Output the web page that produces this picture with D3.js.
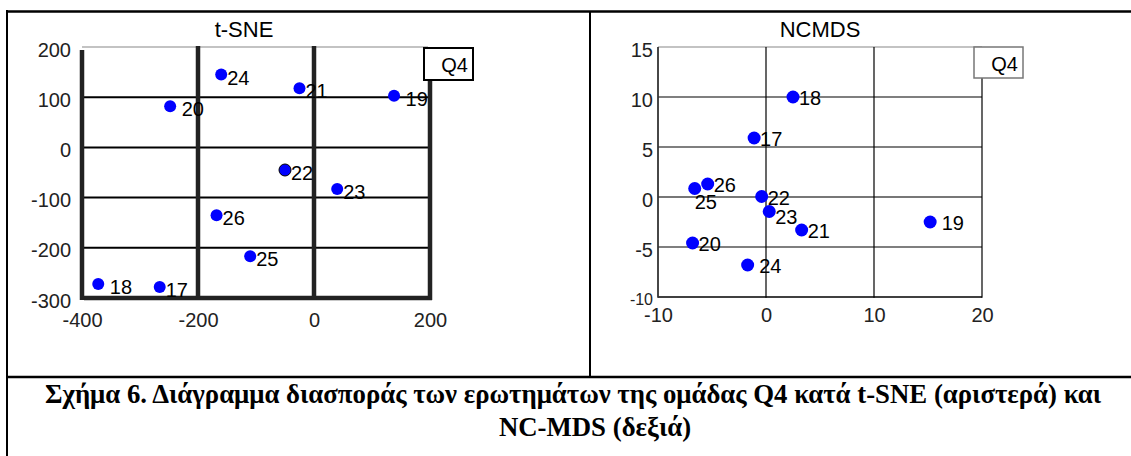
<!DOCTYPE html>
<html>
<head>
<meta charset="utf-8">
<script src="https://cdn.jsdelivr.net/npm/d3@7"></script>
<style>
  body { margin: 0; background: #fff; }
  svg { display: block; }
  .lbl { white-space: pre; }
</style>
</head>
<body>
<svg id="fig"></svg>
<script>
// question labels (leading space = gap before label, as in the original)
var tsneLabels = ['17', ' 18', ' 19', ' 20', '21', '22', '23', '24', '25', '26'];
var tsneX = [-266, -372, 138, -248, -25, -50, 40, -160, -110, -168];
var tsneY = [-278, -272, 103, 82, 118, -45, -83, 145, -217, -135];

var ncmdsLabels = ['17', '18', ' 19', '20', '21', '22', '23', ' 24', '25', '26'];
var ncmdsX = [-1.1, 2.5, 15.2, -6.8, 3.3, -0.4, 0.3, -1.7, -6.6, -5.4];
var ncmdsY = [5.9, 10, -2.5, -4.6, -3.3, 0.05, -1.45, -6.8, 0.85, 1.3];

var tsneXTicks = [-400, -200, 0, 200];
var tsneYTicks = [-300, -200, -100, 0, 100, 200];
var ncmdsXTicks = [-10, 0, 10, 20];
var ncmdsYTicks = [-10, -5, 0, 5, 10, 15];

var captionLine1 = 'Σχήμα 6. Διάγραμμα διασποράς των ερωτημάτων της ομάδας Q4 κατά t-SNE (αριστερά) και';
var captionLine2 = 'NC-MDS (δεξιά)';

var width = 1131, height = 456;
var font = "'Liberation Sans', Arial, sans-serif";
var plain = function(d) { return String(d); };   // keep ascii hyphen for negatives

var svg = d3.select('#fig')
  .attr('width', width)
  .attr('height', height);

// table frame
var frame = svg.append('g').attr('stroke', '#000');
frame.append('line').attr('x1', 6).attr('x2', width).attr('y1', 11.5).attr('y2', 11.5).attr('stroke-width', 2.5);
frame.append('line').attr('x1', 7).attr('x2', 7).attr('y1', 10).attr('y2', height).attr('stroke-width', 2);
frame.append('line').attr('x1', 590).attr('x2', 590).attr('y1', 11).attr('y2', 377).attr('stroke-width', 2);
frame.append('line').attr('x1', 6).attr('x2', width).attr('y1', 377).attr('y2', 377).attr('stroke-width', 2.5);

// ---------- t-SNE ----------
var x1 = d3.scaleLinear().domain([-400, 200]).range([82, 430]);
var y1 = d3.scaleLinear().domain([-300, 200]).range([298, 47]);
var g1 = svg.append('g');

g1.append('text')
  .attr('x', 244).attr('y', 37)
  .attr('text-anchor', 'middle')
  .style('font', '22px ' + font)
  .text('t-SNE');

// horizontal grid
g1.selectAll('.hgrid')
  .data(tsneYTicks)
  .enter().append('line')
  .attr('x1', function(d) { return d === 200 ? 82 : 84; })
  .attr('x2', function(d) { return d === -300 ? 432 : 428; })
  .attr('y1', function(d) { return y1(d); })
  .attr('y2', function(d) { return y1(d); })
  .attr('stroke', function(d) { return d === 200 ? '#888' : (d === -300 ? '#222' : '#000'); })
  .attr('stroke-width', function(d) { return d === 200 ? 1.2 : (d === -300 ? 4.5 : 2); });

// vertical grid
g1.selectAll('.vgrid')
  .data(tsneXTicks)
  .enter().append('line')
  .attr('x1', function(d) { return x1(d); })
  .attr('x2', function(d) { return x1(d); })
  .attr('y1', function(d) { return d === 200 ? 80 : (d === -400 ? 50 : 46); })
  .attr('y2', 300)
  .attr('stroke', '#222')
  .attr('stroke-width', 4.5);

// legend box
g1.append('rect')
  .attr('x', 424).attr('y', 48).attr('width', 49).attr('height', 32)
  .attr('fill', '#fff').attr('stroke', '#000').attr('stroke-width', 2);
g1.append('text')
  .attr('x', 468).attr('y', 72)
  .attr('text-anchor', 'end')
  .style('font', '20px ' + font)
  .text('Q4');

var ax1 = g1.append('g')
  .attr('transform', 'translate(82,0)')
  .call(d3.axisLeft(y1).tickValues(tsneYTicks).tickFormat(plain).tickSize(0).tickPadding(11));
var bx1 = g1.append('g')
  .attr('transform', 'translate(0,298)')
  .call(d3.axisBottom(x1).tickValues(tsneXTicks).tickFormat(plain).tickSize(0).tickPadding(15));
[ax1, bx1].forEach(function(a) {
  a.select('.domain').remove();
  a.selectAll('text').style('font', '20px ' + font).attr('fill', '#222');
});
ax1.selectAll('text').attr('dy', '0.45em');

var tsnePts = tsneLabels.map(function(l, i) { return { label: l, x: tsneX[i], y: tsneY[i] }; });

g1.selectAll('.pt')
  .data(tsnePts)
  .enter().append('circle')
  .attr('cx', function(d) { return x1(d.x); })
  .attr('cy', function(d) { return y1(d.y); })
  .attr('r', 6)
  .attr('fill', '#0000ff')
  .attr('stroke', function(d) { return d.label === '22' ? '#000' : 'none'; })
  .attr('stroke-width', 1);

g1.selectAll('.lbl')
  .data(tsnePts)
  .enter().append('text')
  .attr('class', 'lbl')
  .attr('x', function(d) { return x1(d.x) + 6; })
  .attr('y', function(d) { return y1(d.y) + 10; })
  .style('font', '20px ' + font)
  .text(function(d) { return d.label; });

// ---------- NCMDS ----------
var x2 = d3.scaleLinear().domain([-10, 20]).range([658, 982]);
var y2 = d3.scaleLinear().domain([-10, 15]).range([297, 47]);
var g2 = svg.append('g');

g2.append('text')
  .attr('x', 820).attr('y', 37)
  .attr('text-anchor', 'middle')
  .style('font', '22px ' + font)
  .text('NCMDS');

g2.selectAll('.hgrid')
  .data(ncmdsYTicks)
  .enter().append('line')
  .attr('x1', 658)
  .attr('x2', 982)
  .attr('y1', function(d) { return y2(d); })
  .attr('y2', function(d) { return y2(d); })
  .attr('stroke', function(d) { return d === 0 ? '#777' : (d === 15 ? '#888' : '#000'); })
  .attr('stroke-width', function(d) { return d === 0 ? 2 : (d === -10 ? 1.6 : 1.2); });

g2.selectAll('.vgrid')
  .data(ncmdsXTicks)
  .enter().append('line')
  .attr('x1', function(d) { return x2(d); })
  .attr('x2', function(d) { return x2(d); })
  .attr('y1', function(d) { return d === 20 ? 78 : 47; })
  .attr('y2', 297.8)
  .attr('stroke', function(d) { return d === -10 ? '#333' : '#000'; })
  .attr('stroke-width', function(d) { return d === -10 ? 1.8 : 1.2; });

g2.append('rect')
  .attr('x', 974).attr('y', 47).attr('width', 49).attr('height', 31)
  .attr('fill', '#fff').attr('stroke', '#777').attr('stroke-width', 1.5);
g2.append('text')
  .attr('x', 1018).attr('y', 71)
  .attr('text-anchor', 'end')
  .style('font', '20px ' + font)
  .text('Q4');

var ax2 = g2.append('g')
  .attr('transform', 'translate(658,0)')
  .call(d3.axisLeft(y2).tickValues(ncmdsYTicks).tickFormat(plain).tickSize(0).tickPadding(5));
var bx2 = g2.append('g')
  .attr('transform', 'translate(0,297)')
  .call(d3.axisBottom(x2).tickValues(ncmdsXTicks).tickFormat(plain).tickSize(0).tickPadding(11));
[ax2, bx2].forEach(function(a) {
  a.select('.domain').remove();
  a.selectAll('text').style('font', '20px ' + font).attr('fill', '#222');
});
ax2.selectAll('text')
  .attr('dy', '0.45em')
  .style('font-size', function(d) { return d === -10 ? '16px' : '20px'; });

var ncmdsPts = ncmdsLabels.map(function(l, i) { return { label: l, x: ncmdsX[i], y: ncmdsY[i] }; });

g2.selectAll('.pt')
  .data(ncmdsPts)
  .enter().append('circle')
  .attr('cx', function(d) { return x2(d.x); })
  .attr('cy', function(d) { return y2(d.y); })
  .attr('r', 6.5)
  .attr('fill', '#0000ff');

g2.selectAll('.lbl')
  .data(ncmdsPts)
  .enter().append('text')
  .attr('class', 'lbl')
  .attr('x', function(d) { return x2(d.x) + (d.label === '25' ? 0 : 6); })
  .attr('y', function(d) {
    if (d.label === '25') return y2(d.y) + 20;
    if (d.label === '23') return y2(d.y) + 12;
    return y2(d.y) + 8;
  })
  .style('font', '20px ' + font)
  .text(function(d) { return d.label; });

// ---------- caption (condensed bold serif, same squeeze on both lines) ----------
var cap = svg.append('g')
  .style('font', "bold 27px 'Liberation Serif', 'Times New Roman', serif");
var c1 = cap.append('text')
  .attr('x', 45).attr('y', 403)
  .text(captionLine1);
var c2 = cap.append('text')
  .attr('y', 436)
  .text(captionLine2);
var w1 = c1.node().getComputedTextLength();
var w2 = c2.node().getComputedTextLength();
var squeeze = 1056 / w1;
c1.attr('textLength', 1056).attr('lengthAdjust', 'spacingAndGlyphs');
c2.attr('x', 595 - w2 * squeeze / 2)
  .attr('textLength', w2 * squeeze).attr('lengthAdjust', 'spacingAndGlyphs');
</script>
</body>
</html>
